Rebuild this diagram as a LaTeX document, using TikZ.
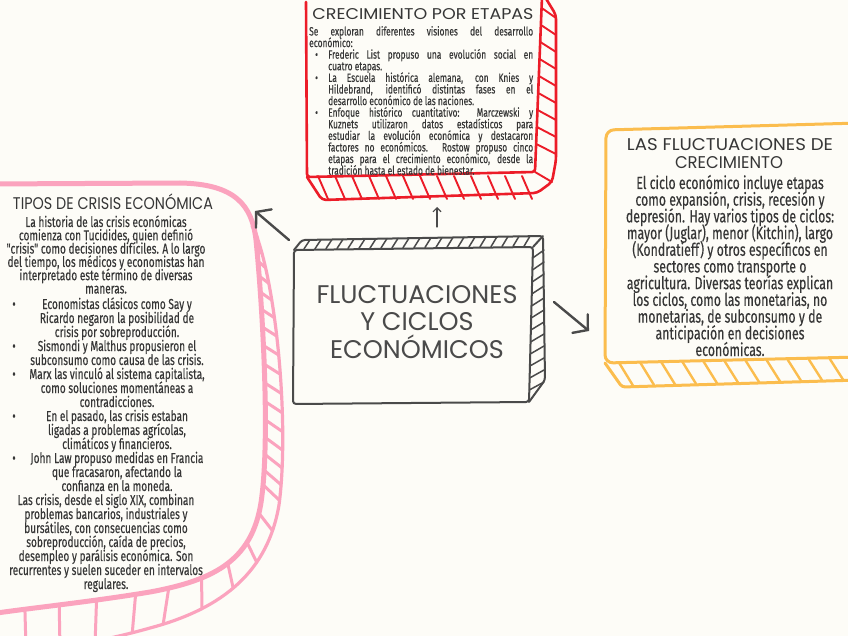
\documentclass[tikz,border=0pt]{standalone}
\usepackage{graphicx}
\usepackage{fontspec}
\setmainfont{Fira Sans}
\newfontfamily\titlefont{Poppins}
\newfontfamily\titlenarrow[FakeStretch=0.85]{Poppins}
\newfontfamily\bodyfont[FakeStretch=0.7,FakeBold=0.3]{Fira Sans}
\usetikzlibrary{arrows.meta}
\definecolor{bg}{HTML}{FDFCF7}
\definecolor{ink}{HTML}{4A4A4A}
\definecolor{txt}{HTML}{363636}
\definecolor{redc}{HTML}{EC1C28}
\definecolor{pinkc}{HTML}{FBA3BE}
\definecolor{orangec}{HTML}{FBBD4E}
\tikzset{
  redline/.style={draw=redc, line width=2.6, line join=round, line cap=round},
  redhatch/.style={draw=redc, line width=1.9, line cap=round},
  pinkline/.style={draw=pinkc, line width=5, line join=round, line cap=round},
  pinkouter/.style={draw=pinkc, line width=3.2, line join=round, line cap=round},
  pinkhatch/.style={draw=pinkc, line width=3, line cap=round},
  orline/.style={draw=orangec, line width=3, line join=round, line cap=round},
  orhatch/.style={draw=orangec, line width=2.4, line cap=round},
  inkline/.style={draw=ink, line width=2, line join=round, line cap=round},
  inkhatch/.style={draw=ink, line width=1.5, line cap=round},
  bigarrow/.style={draw=ink, line width=2.4, line cap=round, -{Straight Barb[length=10pt,width=24pt,line cap=round]}},
  smallarrow/.style={draw=ink, line width=1.1, line cap=round, -{Straight Barb[length=4pt,width=8pt]}},
  rtxt/.style={anchor=base west, inner sep=0, font={\bodyfont\fontsize{12}{13}\selectfont}, text=txt},
  ptxt/.style={anchor=base, inner sep=0, font={\bodyfont\fontsize{14.4}{15}\selectfont}, text=txt},
  otxt/.style={anchor=base, inner sep=0, font={\bodyfont\fontsize{17.6}{18}\selectfont}, text=txt},
  ttl/.style={anchor=center, inner sep=0, text=txt},
}
\begin{document}
\begin{tikzpicture}[x=1pt,y=-1pt]
\useasboundingbox (0,0) rectangle (848,636);
\fill[bg] (0,0) rectangle (848,636);
\clip (0,0) rectangle (848,636);

% ---------------- red box ----------------
\draw[redline, rounded corners=3] (306,2) -- (307,177) -- (535,172) -- (542,-3);
\draw[redline, rounded corners=4] (545,-3) -- (556,15) -- (556,160) -- (552,182) -- (537,193) -- (322,200) -- (307,177);
\foreach \x in {318,335,...,528} \draw[redhatch] (\x,176) -- (\x+10,199);
\foreach \y in {8,25,...,160} \draw[redhatch] ({542-\y*0.04},\y) -- (556,\y+10);
\draw[redhatch] (535,172) -- (552,182);

\node[ttl] (rtitle) at (423,14.5) {\resizebox{221pt}{11pt}{\titlenarrow CRECIMIENTO POR ETAPAS}};
\node[rtxt] (r1) at (309,35.5) {\makebox[224pt][s]{Se exploran diferentes visiones del desarrollo}};
\node[rtxt] (r2) at (309,47.1) {económico:};
\node[rtxt] (r3) at (328,58.7) {\makebox[205pt][s]{Frederic List propuso una evolución social en}};
\node[rtxt] (r4) at (328,70.3) {cuatro etapas.};
\node[rtxt] (r5) at (328,81.9) {\makebox[205pt][s]{La Escuela histórica alemana, con Knies y}};
\node[rtxt] (r6) at (328,93.5) {\makebox[205pt][s]{Hildebrand, identificó distintas fases en el}};
\node[rtxt] (r7) at (328,105.1) {desarrollo económico de las naciones.};
\node[rtxt] (r8) at (328,116.7) {\makebox[205pt][s]{Enfoque histórico cuantitativo: Marczewski y}};
\node[rtxt] (r9) at (328,128.3) {\makebox[205pt][s]{Kuznets utilizaron datos estadísticos para}};
\node[rtxt] (r10) at (328,139.9) {\makebox[205pt][s]{estudiar la evolución económica y destacaron}};
\node[rtxt] (r11) at (328,151.5) {\makebox[205pt][s]{factores no económicos. Rostow propuso cinco}};
\node[rtxt] (r12) at (328,163.1) {\makebox[205pt][s]{etapas para el crecimiento económico, desde la}};
\node[rtxt] (r13) at (328,174.7) {tradición hasta el estado de bienestar.};
\node[rtxt] (rb1) at (315,58.7) {•};
\node[rtxt] (rb2) at (315,81.9) {•};
\node[rtxt] (rb3) at (315,116.7) {•};

% ---------------- orange box ----------------
\draw[orline, rounded corners=8] (860,123) -- (606,130) -- (605,363) -- (860,357);
\draw[orline, rounded corners=3] (605,363) -- (622,387) -- (860,380);
\foreach \x in {619,640,...,850} \draw[orhatch] (\x,{363-(\x-605)*0.024}) -- (\x+14,{386-(\x-605)*0.029});

\node[ttl] (otitle1) at (730,145) {\resizebox{206pt}{12pt}{\titlenarrow LAS FLUCTUACIONES DE}};
\node[ttl] (otitle2) at (729,163) {\resizebox{108pt}{12pt}{\titlenarrow CRECIMIENTO}};
\foreach \t [count=\i] in {
  {El ciclo económico incluye etapas},
  {como expansión, crisis, recesión y},
  {depresión. Hay varios tipos de ciclos:},
  {mayor (Juglar), menor (Kitchin), largo},
  {(Kondratieff) y otros específicos en},
  {sectores como transporte o},
  {agricultura. Diversas teorías explican},
  {los ciclos, como las monetarias, no},
  {monetarias, de subconsumo y de},
  {anticipación en decisiones},
  {económicas.}}
  \node[otxt] (o\i) at (730,{183+16.7*(\i-1)+6}) {\t};

% ---------------- pink box ----------------
\draw[pinkline] (-10,184) -- (180,183) .. controls (235,184) and (252,205) .. (256,240)
  .. controls (262,300) and (270,430) .. (262,495)
  .. controls (255,560) and (215,580) .. (150,592)
  .. controls (90,602) and (30,608) .. (-10,614);
\draw[pinkouter] (252,226) .. controls (256,232) and (257,236) .. (258,240)
  .. controls (278,300) and (289,430) .. (279,505)
  .. controls (268,570) and (225,608) .. (150,628)
  .. controls (90,645) and (40,650) .. (-10,660);
\foreach \p in {0.04,0.105,...,0.97} {
  \pgfmathsetmacro\q{min(\p+0.03,1)}
  \path (256,240) .. controls (262,300) and (270,430) .. (262,495) coordinate[pos=\p] (hin);
  \path (258,240) .. controls (278,300) and (289,430) .. (279,505) coordinate[pos=\q] (hout);
  \draw[pinkhatch] (hin) -- (hout);
}
\foreach \p in {0.1,0.3,0.5,0.7,0.9} {
  \pgfmathsetmacro\q{\p+0.04}
  \path (262,495) .. controls (255,560) and (215,580) .. (150,592) coordinate[pos=\p] (hin);
  \path (279,505) .. controls (268,570) and (225,608) .. (150,628) coordinate[pos=\q] (hout);
  \draw[pinkhatch] (hin) -- (hout);
}
\foreach \p in {0.08,0.3,0.52,0.74,0.96} {
  \pgfmathsetmacro\q{\p+0.02}
  \path (150,592) .. controls (90,602) and (30,608) .. (-10,614) coordinate[pos=\p] (hin);
  \path (150,628) .. controls (90,645) and (40,650) .. (-10,660) coordinate[pos=\q] (hout);
  \draw[pinkhatch] (hin) -- (hout);
}

\node[ttl] (ptitle) at (113,202) {\resizebox{200pt}{!}{\titlenarrow TIPOS DE CRISIS ECONÓMICA}};
\foreach \t [count=\i] in {
  {La historia de las crisis económicas},
  {comienza con Tucidides, quien definió},
  {"crisis" como decisiones difíciles. A lo largo},
  {del tiempo, los médicos y economistas han},
  {interpretado este término de diversas},
  {maneras.}}
  \node[ptxt] (pa\i) at (106,{222+13.3*(\i-1)+5}) {\t};
\foreach \t [count=\i] in {
  {Economistas clásicos como Say y},
  {Ricardo negaron la posibilidad de},
  {crisis por sobreproducción.},
  {Sismondi y Malthus propusieron el},
  {subconsumo como causa de las crisis.},
  {Marx las vinculó al sistema capitalista,},
  {como soluciones momentáneas a},
  {contradicciones.},
  {En el pasado, las crisis estaban},
  {ligadas a problemas agrícolas,},
  {climáticos y financieros.},
  {John Law propuso medidas en Francia},
  {que fracasaron, afectando la},
  {confianza en la moneda.}}
  \node[ptxt] (pb\i) at (117,{304+14*(\i-1)+5}) {\t};
\foreach \i in {1,4,6,9,12}
  \node[ptxt] (pbul\i) at (14,{304+14*(\i-1)+5}) {•};
\foreach \t [count=\i] in {
  {Las crisis, desde el siglo XIX, combinan},
  {problemas bancarios, industriales y},
  {bursátiles, con consecuencias como},
  {sobreproducción, caída de precios,},
  {desempleo y parálisis económica. Son},
  {recurrentes y suelen suceder en intervalos},
  {regulares.}}
  \node[ptxt] (pc\i) at (106,{500+14*(\i-1)+5}) {\t};

% ---------------- central box ----------------
\draw[inkline, rounded corners=3] (294,250) -- (533,247) -- (529,402) -- (293,404) -- cycle;
\draw[inkline, rounded corners=3] (294,250) -- (302,240) -- (543,236) -- (545,380) -- (529,402);
\draw[inkline] (533,247) -- (543,236);
\foreach \x in {304,315,...,530} \draw[inkhatch] (\x,{249-(\x-294)*0.012}) -- (\x+6,{240-(\x-294)*0.017});
\foreach \y in {258,270,...,390} \draw[inkhatch] ({533-(\y-247)*0.026},\y) -- (544,\y-8);

\node[ttl, align=center, text=ink, font={\titlefont\fontsize{25.5}{27.5}\selectfont}] (main) at (417,322)
  {FLUCTUACIONES\\Y CICLOS\\ECONÓMICOS};

% ---------------- arrows ----------------
\coordinate (upS) at (437,227);
\coordinate (upE) at (437,207);
\coordinate (lS) at (289,240);
\coordinate (lE) at (255,211);
\coordinate (rS) at (554,302);
\coordinate (rE) at (589,331);
\draw[smallarrow] (upS) -- (upE);
\draw[bigarrow] (lS) -- (lE);
\draw[bigarrow] (rS) -- (rE);
\end{tikzpicture}
\end{document}
